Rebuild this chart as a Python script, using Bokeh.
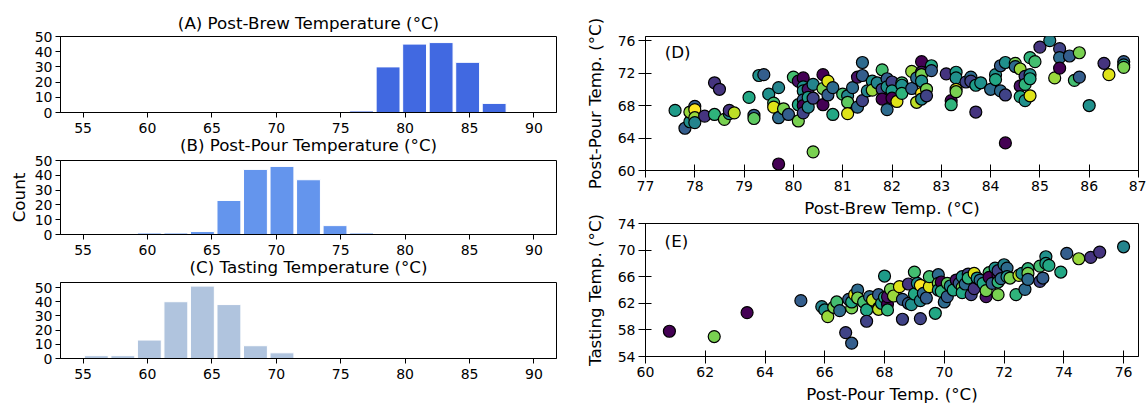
import numpy as np
from bokeh.plotting import figure
from bokeh.layouts import row, column
from bokeh.models import FixedTicker, Label, ColumnDataSource
from bokeh.transform import linear_cmap
from bokeh.palettes import Viridis256
from bokeh.embed import file_html
from bokeh.resources import INLINE

FONT = "DejaVu Sans"
BIG = "16.7px"
TICK = "14px"

# ---------------- histogram data ----------------
BIN_EDGES = np.linspace(55, 90, 18)
BREW_COUNTS = [0, 0, 0, 0, 0, 0, 0, 0, 0, 0, 1, 30, 45, 46, 33, 6, 0]
POUR_COUNTS = [0, 0, 1, 1, 2, 23, 44, 46, 37, 6, 1, 0, 0, 0, 0, 0, 0]
TASTE_COUNTS = [2, 2, 13, 40, 51, 38, 9, 4, 0, 0, 0, 0, 0, 0, 0, 0, 0]
HIST_TICKS = [55, 60, 65, 70, 75, 80, 85, 90]
COUNT_TICKS = [0, 10, 20, 30, 40, 50]

# ---------------- scatter (D): post-brew vs post-pour ----------------
D_BREW = [77.6, 77.8, 77.9, 77.9, 78.0, 78.0, 78.0, 78.0, 78.2, 78.4, 78.5, 78.4, 78.6, 78.7, 78.7, 78.8,
          79.1, 79.2, 79.2, 79.3, 79.4, 79.5, 79.6, 79.6, 79.7, 79.7, 79.7, 79.8, 79.9,
          80.0, 80.1, 80.1, 80.1, 80.2, 80.2, 80.2, 80.2, 80.2, 80.2, 80.3, 80.3, 80.3, 80.4, 80.4, 80.4,
          80.6, 80.6, 80.6, 80.7, 80.7, 80.8, 80.8,
          81.0, 81.1, 81.1, 81.1, 81.2, 81.3, 81.3, 81.4, 81.4, 81.4, 81.5, 81.6, 81.6, 81.7, 81.8, 81.8, 81.8,
          81.9, 81.9, 81.9, 82.0, 82.0, 82.0, 82.1, 82.2, 82.2, 82.2, 82.4, 82.4, 82.5, 82.5,
          82.6, 82.6, 82.6, 82.6, 82.6, 82.6, 82.7, 82.7, 82.8, 82.8,
          83.1, 83.2, 83.2, 83.3, 83.3, 83.3, 83.3, 83.5, 83.6, 83.6, 83.7, 83.7, 83.8,
          84.0, 84.1, 84.1, 84.2, 84.2, 84.3, 84.3, 84.3, 84.5, 84.5, 84.6, 84.6, 84.6, 84.7, 84.7, 84.7,
          84.8, 84.8, 84.8, 84.8, 84.9, 85.0, 85.2, 85.3, 85.4, 85.4, 85.4, 85.6, 85.7, 85.8, 85.8,
          86.0, 86.3, 86.4, 86.7, 86.7, 86.7]
D_POUR = [67.4, 65.2, 66.0, 67.2, 67.9, 67.5, 66.5, 65.9, 66.7, 70.8, 70.0, 66.9, 66.3, 67.0, 67.4, 67.1,
          69.0, 66.8, 66.4, 71.7, 71.8, 69.4, 68.3, 67.8, 70.2, 66.5, 60.8, 67.6, 66.9,
          71.5, 71.0, 68.1, 66.1, 71.4, 70.3, 69.8, 68.7, 68.0, 67.1, 70.0, 69.0, 67.8, 70.6, 68.9, 62.3,
          71.8, 70.1, 68.1, 71.0, 69.3, 70.2, 66.9,
          69.4, 69.2, 68.4, 67.0, 70.2, 71.5, 67.8, 73.3, 71.7, 68.6, 69.8, 71.0, 69.9, 70.8, 72.4, 70.0, 68.8,
          71.3, 67.5, 70.3, 70.9, 69.8, 68.9, 68.5, 70.8, 70.5, 69.5, 72.2, 70.1, 71.4, 68.4,
          73.4, 72.1, 71.8, 71.0, 69.5, 68.8, 70.0, 69.2, 72.9, 72.3,
          71.9, 68.6, 68.1, 72.1, 71.4, 70.0, 69.7, 70.9, 71.5, 71.0, 70.5, 67.2, 70.8,
          70.0, 71.8, 71.2, 72.9, 69.8, 73.3, 69.3, 63.4, 73.2, 72.8, 72.5, 70.4, 69.1, 71.6, 70.6, 68.6,
          73.9, 71.8, 71.3, 69.2, 73.4, 75.2, 76.0, 71.4, 75.0, 73.9, 72.6, 74.1, 71.1, 74.5, 71.5,
          68.0, 73.2, 71.8, 73.4, 73.0, 72.7]
D_COLOR = [0.55, 0.30, 0.50, 0.85, 0.30, 1.00, 0.85, 0.45, 0.15, 0.15, 0.15, 0.65, 0.80, 0.45, 0.15, 0.90,
           0.60, 0.30, 0.75, 0.50, 0.30, 0.50, 0.70, 0.95, 0.45, 0.35, 0.00, 0.80, 0.30,
           0.70, 0.05, 0.60, 0.80, 0.00, 0.50, 0.50, 0.30, 0.00, 0.20, 0.05, 0.55, 0.45, 0.45, 0.20, 0.80,
           0.00, 0.80, 0.00, 0.95, 0.30, 0.35, 0.60,
           0.70, 0.45, 0.75, 0.95, 0.35, 0.05, 0.35, 0.35, 0.30, 0.20, 0.45, 0.50, 0.85, 0.45, 0.70, 0.20, 0.00,
           0.30, 0.35, 0.50, 0.20, 0.55, 0.00, 0.95, 0.70, 0.50, 0.65, 0.85, 0.30, 0.35, 0.90,
           0.00, 0.05, 0.80, 0.50, 1.00, 0.45, 0.80, 0.20, 0.60, 0.30,
           0.15, 0.00, 0.65, 0.55, 0.50, 0.95, 0.80, 0.20, 0.35, 0.20, 0.55, 0.15, 0.50,
           0.35, 0.50, 0.60, 0.30, 0.35, 0.50, 0.20, 0.00, 0.80, 0.35, 0.85, 0.05, 0.60, 0.20, 0.65, 0.50,
           0.65, 0.50, 0.60, 0.95, 0.70, 0.15, 0.45, 0.85, 0.20, 0.35, 0.00, 0.30, 0.70, 0.80, 0.30,
           0.50, 0.15, 0.95, 0.30, 0.60, 0.80]

# ---------------- scatter (E): post-pour vs tasting ----------------
E_POUR = [60.8, 62.3, 63.4, 65.2, 65.9, 66.0, 66.1, 66.3, 66.4, 66.5, 66.7, 66.8, 66.9, 66.9, 66.9,
          67.0, 67.1, 67.1, 67.3, 67.4, 67.4, 67.5, 67.6, 67.8, 67.8, 67.8, 67.9,
          68.0, 68.0, 68.1, 68.1, 68.1, 68.2, 68.3, 68.5, 68.6, 68.6, 68.8, 68.8, 68.9,
          69.0, 69.0, 69.1, 69.2, 69.2, 69.2, 69.3, 69.4, 69.5, 69.5, 69.7, 69.8, 69.8, 69.8, 69.9, 69.9,
          70.0, 70.1, 70.1, 70.2, 70.3, 70.4, 70.5, 70.6, 70.6, 70.6, 70.7, 70.8, 70.8, 70.9,
          71.0, 71.0, 71.1, 71.2, 71.3, 71.4, 71.4, 71.5, 71.5, 71.6, 71.7, 71.8, 71.8, 71.8, 71.8, 71.9,
          72.0, 72.1, 72.1, 72.2, 72.4, 72.5, 72.6, 72.7, 72.8, 72.8, 72.8,
          73.2, 73.2, 73.3, 73.4, 73.4, 73.5, 73.9, 74.1, 74.5, 74.9, 75.2, 76.0]
E_TASTE = [57.8, 57.0, 60.6, 62.4, 61.5, 61.0, 60.0, 61.4, 62.2, 60.9, 57.6, 62.6, 56.0, 61.3, 62.2,
           63.3, 64.0, 62.8, 62.2, 61.0, 59.3, 63.0, 62.5, 63.3, 61.3, 61.1, 62.0,
           66.1, 62.9, 61.9, 61.0, 63.0, 64.1, 63.1, 64.5, 59.6, 62.6, 64.9, 62.0, 61.8,
           66.7, 63.4, 65.0, 59.7, 64.7, 62.4, 63.5, 62.8, 64.5, 66.0, 60.5, 66.3, 65.0, 64.0, 65.2, 63.8,
           62.2, 65.0, 63.0, 64.6, 64.0, 65.5, 65.0, 66.0, 64.4, 63.6, 64.9, 66.4, 65.8, 63.3,
           66.5, 64.2, 65.8, 65.5, 65.0, 63.0, 63.9, 66.6, 65.9, 65.0, 67.3, 66.2, 66.9, 65.2, 63.3, 65.7,
           67.8, 67.3, 66.0, 65.8, 63.3, 66.2, 66.5, 64.1, 67.2, 66.5, 65.6,
           67.6, 65.3, 65.8, 69.0, 68.0, 67.7, 66.7, 69.5, 68.7, 68.9, 69.7, 70.5]
E_COLOR = [0.00, 0.80, 0.00, 0.30, 0.45, 0.50, 0.85, 0.80, 0.70, 0.35, 0.20, 0.30, 0.30, 0.80, 0.60,
           0.95, 0.35, 0.80, 0.70, 0.60, 0.20, 0.35, 0.90, 0.30, 0.50, 0.90, 0.55,
           0.55, 0.60, 0.00, 0.65, 0.05, 0.80, 0.85, 0.95, 0.20, 0.30, 0.15, 0.30, 0.50,
           0.70, 0.60, 0.50, 0.20, 1.00, 0.45, 0.35, 0.30, 0.95, 0.70, 0.60, 0.35, 0.80, 0.50, 0.00, 0.65,
           0.35, 0.75, 0.30, 0.45, 0.60, 0.05, 0.30, 0.50, 0.80, 0.60, 0.35, 0.20, 0.65, 0.20,
           0.95, 0.15, 0.50, 0.35, 0.60, 0.05, 0.80, 0.70, 0.00, 0.30, 0.50, 0.05, 0.20, 0.65, 0.80, 0.35,
           0.45, 0.35, 0.50, 0.80, 0.65, 0.90, 0.50, 0.35, 0.65, 0.80, 0.35,
           0.70, 0.20, 0.30, 0.50, 0.55, 0.60, 0.60, 0.30, 0.85, 0.15, 0.15, 0.45]


def style_axes(p, tick_in, tick_out, xlabel_pad, ylabel_standoff):
    for ax in (p.xaxis[0], p.yaxis[0]):
        ax.major_label_text_font = FONT
        ax.major_label_text_font_size = TICK
        ax.major_label_text_color = "black"
        ax.axis_label_text_font = FONT
        ax.axis_label_text_font_size = BIG
        ax.axis_label_text_font_style = "normal"
        ax.axis_label_text_color = "black"
        ax.axis_line_color = "black"
        ax.major_tick_line_color = "black"
        ax.major_tick_in = tick_in
        ax.major_tick_out = tick_out
        ax.minor_tick_line_color = None
        ax.major_label_standoff = 3
    p.xaxis.major_label_standoff = xlabel_pad
    p.xaxis.axis_label_standoff = 4
    p.yaxis.axis_label_standoff = ylabel_standoff
    p.xgrid.visible = False
    p.ygrid.visible = False
    p.outline_line_color = "black"
    p.outline_line_alpha = 1.0
    p.background_fill_color = "white"
    p.border_fill_alpha = 0.0


def hist_fig(title, counts, color, ymax, height, top, bottom, shift, ylabel=None):
    p = figure(width=580, height=height, x_range=(53.25, 91.75), y_range=(0, ymax),
               toolbar_location=None, output_backend="svg",
               min_border_left=60, min_border_right=24, min_border_top=top, min_border_bottom=bottom)
    p.margin = (-shift, 0, 0, 0)
    p.title.text = title
    p.title.align = "center"
    p.title.text_font = FONT
    p.title.text_font_size = BIG
    p.title.text_font_style = "normal"
    p.title.text_color = "black"
    p.title.standoff = 7 if shift == 0 else 11
    counts = np.asarray(counts)
    m = counts > 0
    left = BIN_EDGES[:-1][m]
    right = BIN_EDGES[1:][m]
    w = right - left
    p.quad(left=left + 0.05 * w, right=right - 0.05 * w, bottom=0, top=counts[m],
           fill_color=color, line_color="white", line_width=1)
    style_axes(p, 0, 5, 5, 3)
    p.xaxis.ticker = FixedTicker(ticks=HIST_TICKS)
    p.yaxis.ticker = FixedTicker(ticks=COUNT_TICKS)
    if ylabel:
        p.yaxis.axis_label = ylabel
    return p


pA = hist_fig("(A) Post-Brew Temperature (°C)", BREW_COUNTS, "royalblue", 50, 138, 36, 26, 0)
pB = hist_fig("(B) Post-Pour Temperature (°C)", POUR_COUNTS, "cornflowerblue", 50, 133, 31, 26, 11, "Count")
pC = hist_fig("(C) Tasting Temperature (°C)", TASTE_COUNTS, "lightsteelblue", 53.55, 157, 32, 48, 11)


def scatter_fig(xs, ys, cs, xr, yr, height, top, bottom, shift, xlabel, ylabel, xt, yt, tag, tag_xy):
    p = figure(width=566, height=height, x_range=xr, y_range=yr,
               toolbar_location=None, output_backend="svg",
               min_border_left=65, min_border_right=8, min_border_top=top, min_border_bottom=bottom)
    p.margin = (-shift, 0, 0, 0)
    src = ColumnDataSource(dict(x=xs, y=ys, c=cs))
    p.scatter("x", "y", source=src, size=12,
              fill_color=linear_cmap("c", Viridis256, 0, 1),
              line_color="black", line_width=1.2)
    style_axes(p, 6, 7, 3, 10)
    p.xaxis.ticker = FixedTicker(ticks=xt)
    p.yaxis.ticker = FixedTicker(ticks=yt)
    p.xaxis.axis_label = xlabel
    p.yaxis.axis_label = ylabel
    p.add_layout(Label(x=tag_xy[0], y=tag_xy[1], text=tag, text_baseline="top",
                       text_font=FONT, text_font_size=BIG, text_color="black"))
    return p


pD = scatter_fig(D_BREW, D_POUR, D_COLOR, (77, 87), (60, 76.5), 220, 36, 50, 0,
                 "Post-Brew Temp. (°C)", "Post-Pour Temp. (°C)",
                 list(range(77, 88)), [60, 64, 68, 72, 76], "(D)", (77.39, 75.8))
pE = scatter_fig(E_POUR, E_TASTE, E_COLOR, (60, 76.5), (54, 74), 201, 18, 49, 15,
                 "Post-Pour Temp. (°C)", "Tasting Temp. (°C)",
                 list(range(60, 77, 2)), [54, 58, 62, 66, 70, 74], "(E)", (60.64, 72.8))

layout = row(column(pA, pB, pC), column(pD, pE))
open("out.html", "w").write(file_html(layout, INLINE))
